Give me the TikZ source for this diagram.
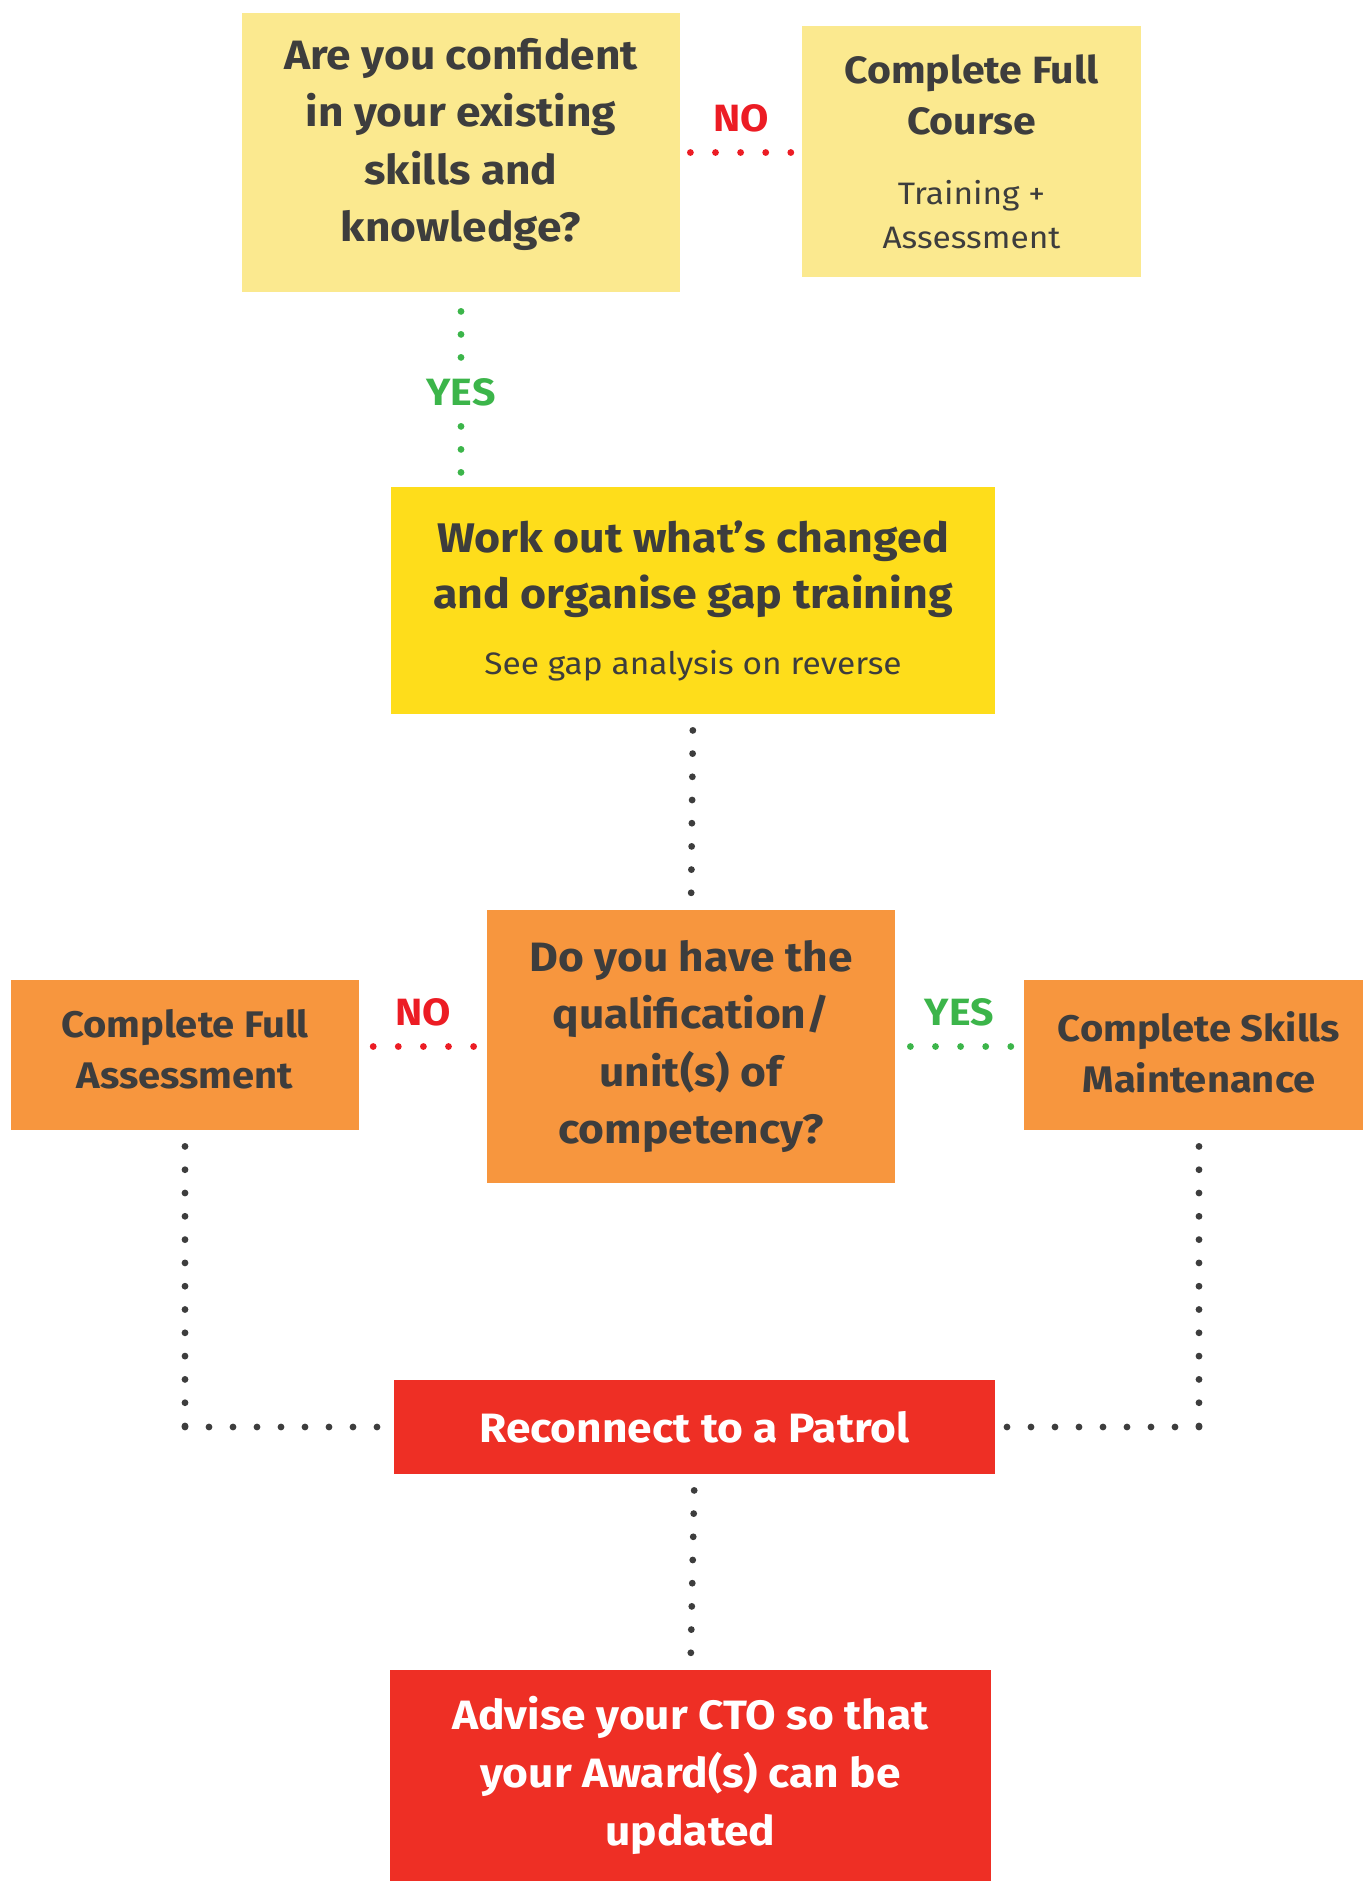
\documentclass[tikz,border=0pt]{standalone}
\usepackage{fontspec}
\setmainfont[FakeStretch=1.08]{Fira Sans}
\usepackage{tikz}
\usetikzlibrary{positioning}

\definecolor{paleyellow}{HTML}{FBE98F}
\definecolor{gapyellow}{HTML}{FEDD1B}
\definecolor{boxorange}{HTML}{F7963E}
\definecolor{boxred}{HTML}{EE2F25}
\definecolor{darktext}{HTML}{3D3D3D}
\definecolor{nored}{HTML}{EC1C24}
\definecolor{yesgreen}{HTML}{3CB54A}

\begin{document}
\begin{tikzpicture}[x=0.5pt,y=-0.5pt,
  box/.style={inner sep=0pt,align=flush center,text=darktext},
  bigtext/.style={font=\fontsize{20.5}{28.8}\selectfont\bfseries},
  midtext/.style={font=\fontsize{18.5}{25.5}\selectfont\bfseries},
  dots/.style={line width=3.4pt,line cap=round,dash pattern=on 0pt off 11.6pt,darktext},
  nodots/.style={dots,nored,dash pattern=on 0pt off 12.55pt},
  yesdots/.style={dots,yesgreen,dash pattern=on 0pt off 12.55pt},
  nolabel/.style={text=nored,font=\fontsize{19}{19}\selectfont\bfseries,inner sep=1pt},
  yeslabel/.style={text=yesgreen,font=\fontsize{19}{19}\selectfont\bfseries,inner sep=1pt}]
  \useasboundingbox (0,0) rectangle (1362,1881);

  \node[box,bigtext,fill=paleyellow,minimum width=219pt,minimum height=139.5pt,text width=212pt] (confident) at (461,152.5)
    {Are you confident\\in your existing\\skills and\\knowledge?\par\vspace{8pt}};
  \node[box,fill=paleyellow,minimum width=169.5pt,minimum height=125.5pt,text width=166pt] (fullcourse) at (971.5,151.5)
    {{\fontsize{19}{25.5}\selectfont\bfseries Complete Full\\Course\par}\vspace{13pt}{\fontsize{15.5}{22}\selectfont Training +\\Assessment\par}};
  \node[box,fill=gapyellow,minimum width=302pt,minimum height=113.5pt,text width=298pt] (gap) at (693,600.5)
    {{\fontsize{20.7}{28}\selectfont\bfseries Work out what’s changed\\and organise gap training\par}\vspace{13pt}{\fontsize{15.5}{20}\selectfont See gap analysis on reverse\par}};
  \node[box,bigtext,fill=boxorange,minimum width=204pt,minimum height=136.5pt,text width=200pt] (qualified) at (691,1046.5)
    {Do you have the\\qualification/\\unit(s) of\\competency?};
  \node[box,midtext,fill=boxorange,minimum width=174pt,minimum height=75pt,text width=172pt] (fullassess) at (185,1055)
    {Complete Full\\Assessment\par\vspace{6pt}};
  \node[box,midtext,fill=boxorange,minimum width=175pt,minimum height=75pt,text width=172pt] (skills) at (1199,1055)
    {Complete Skills\\Maintenance\par\vspace{3pt}};
  \node[box,bigtext,fill=boxred,text=white,minimum width=300.5pt,minimum height=47pt,text width=296pt] (patrol) at (694.5,1427)
    {Reconnect to a Patrol};
  \node[box,bigtext,fill=boxred,text=white,minimum width=300.5pt,minimum height=105.5pt,text width=296pt] (advise) at (690.5,1775.5)
    {Advise your CTO so that\\your Award(s) can be\\updated};

  \coordinate (leftbend) at (fullassess.south |- patrol.west);
  \coordinate (rightbend) at (skills.south |- patrol.east);

  \draw[nodots,shorten <=5pt,shorten >=5pt] (confident.east) -- node[nolabel,midway,yshift=17pt] (no1) {NO} (confident.east -| fullcourse.west);
  \draw[yesdots,dash pattern=on 0pt off 11.5pt,shorten <=9.5pt,shorten >=7pt] (confident.south) -- node[yeslabel,midway,yshift=-1.5pt,fill=white,inner ysep=3pt] (yes1) {YES} (confident.south |- gap.north);
  \draw[dots,shorten <=8pt,shorten >=7.5pt] (gap.south) -- (qualified.north);
  \draw[nodots,shorten <=6.5pt,shorten >=6.5pt] (qualified.west) -- node[nolabel,midway,yshift=17pt] (no2) {NO} (qualified.west -| fullassess.east);
  \draw[yesdots,shorten <=7.5pt,shorten >=6pt] (qualified.east) -- node[yeslabel,midway,yshift=17pt] (yes2) {YES} (qualified.east -| skills.west);
  \draw[dots,dash pattern=on 0pt off 11.65pt,shorten <=8pt] (fullassess.south) -- (leftbend);
  \draw[dots,dash pattern=on 0pt off 12pt,shorten >=8pt] (leftbend) -- (patrol.west);
  \draw[dots,dash pattern=on 0pt off 11.65pt,shorten <=8pt] (skills.south) -- (rightbend);
  \draw[dots,dash pattern=on 0pt off 12pt,shorten >=5.5pt] (rightbend) -- (patrol.east);
  \draw[dots,shorten <=8pt,shorten >=7pt] (patrol.south) -- (advise.north);
\end{tikzpicture}
\end{document}
